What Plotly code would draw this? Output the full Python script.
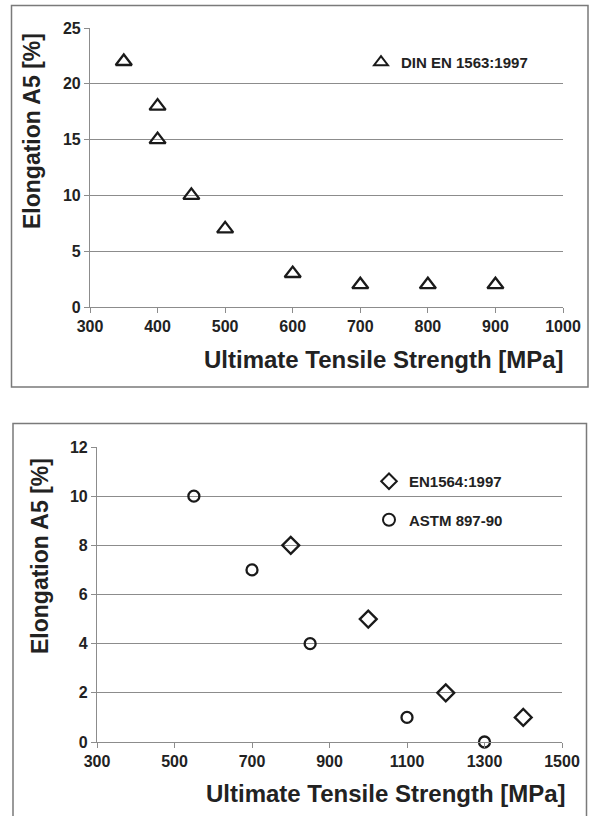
import plotly.graph_objects as go

# DIN EN 1563:1997 grades
din_uts = [350, 400, 400, 450, 500, 600, 700, 800, 900]
din_elong = [22, 18, 15, 10, 7, 3, 2, 2, 2]

# EN1564:1997 grades
en_uts = [800, 1000, 1200, 1400]
en_elong = [8, 5, 2, 1]

# ASTM 897-90 grades
astm_uts = [550, 700, 850, 1100, 1300]
astm_elong = [10, 7, 4, 1, 0]

top_xticks = [300, 400, 500, 600, 700, 800, 900, 1000]
top_yticks = [0, 5, 10, 15, 20, 25]
bot_xticks = [300, 500, 700, 900, 1100, 1300, 1500]
bot_yticks = [0, 2, 4, 6, 8, 10, 12]

x_title = "Ultimate Tensile Strength [MPa]"
y_title = "Elongation A5 [%]"

W, H = 591, 816
FONT = "Liberation Sans, Arial, sans-serif"
GRID = "#8c8c8c"
INK = "#1a1a1a"


def bold(vals):
    return [f"<b>{v}</b>" for v in vals]


fig = go.Figure()

fig.add_trace(go.Scatter(
    x=din_uts, y=din_elong, mode="markers", name="<b>DIN EN 1563:1997</b>",
    marker=dict(symbol="triangle-up-open", size=14, color=INK,
                line=dict(width=2.3, color=INK)),
    xaxis="x", yaxis="y", legend="legend", showlegend=True, cliponaxis=False))

fig.add_trace(go.Scatter(
    x=en_uts, y=en_elong, mode="markers", name="<b>EN1564:1997</b>",
    legendgroup="en",
    marker=dict(symbol="diamond-open", size=13, color=INK,
                line=dict(width=2.3, color=INK)),
    xaxis="x2", yaxis="y2", legend="legend2", showlegend=True, cliponaxis=False))

fig.add_trace(go.Scatter(
    x=astm_uts, y=astm_elong, mode="markers", name="<b>ASTM 897-90</b>",
    legendgroup="astm",
    marker=dict(symbol="circle-open", size=11, color=INK,
                line=dict(width=2.3, color=INK)),
    xaxis="x2", yaxis="y2", legend="legend2", showlegend=True, cliponaxis=False))


def px_x(p):
    return p / W


def px_y(p):
    return 1 - p / H


tickfont = dict(family=FONT, size=16, color="#222", weight="bold")

axis_common = dict(
    showline=True, linecolor=GRID, linewidth=1.2, mirror=False,
    ticks="outside", ticklen=5, tickcolor=GRID, tickwidth=1,
    tickfont=tickfont, zeroline=False, automargin=False,
)

legend_font = dict(family=FONT, size=15, color="#222")

fig.update_layout(
    template="none",
    width=W, height=H,
    margin=dict(l=0, r=0, t=0, b=0, pad=0),
    paper_bgcolor="white", plot_bgcolor="white",
    font=dict(family=FONT, color="#222"),
    showlegend=True,
    xaxis=dict(domain=[px_x(90), px_x(563)], range=[300, 1000],
               tickvals=top_xticks, ticktext=bold(top_xticks),
               showgrid=False, anchor="y", **axis_common),
    yaxis=dict(domain=[px_y(307), px_y(28)], range=[0, 25],
               tickvals=top_yticks, ticktext=bold(top_yticks),
               showgrid=True, gridcolor=GRID, gridwidth=1, anchor="x",
               **axis_common),
    xaxis2=dict(domain=[px_x(97), px_x(562)], range=[300, 1500],
                tickvals=bot_xticks, ticktext=bold(bot_xticks),
                showgrid=False, anchor="y2", **axis_common),
    yaxis2=dict(domain=[px_y(742), px_y(447)], range=[0, 12],
                tickvals=bot_yticks, ticktext=bold(bot_yticks),
                showgrid=True, gridcolor=GRID, gridwidth=1, anchor="x2",
                **axis_common),
    legend=dict(x=px_x(361), y=px_y(46), xanchor="left", yanchor="top",
                bgcolor="rgba(0,0,0,0)", itemwidth=30, font=legend_font,
                itemsizing="constant"),
    legend2=dict(x=px_x(369), y=px_y(465), xanchor="left", yanchor="top",
                 bgcolor="rgba(0,0,0,0)", itemwidth=30, tracegroupgap=16,
                 font=legend_font, itemsizing="constant"),
)

# axis titles, placed as in the original figure layout
title_font = dict(family=FONT, size=24, color="#222")
ytitle_font = dict(family=FONT, size=23, color="#222")
for x, y, text, ang, f in [
    (384, 359, x_title, 0, title_font),
    (386, 793, x_title, 0, title_font),
    (32, 131, y_title, -90, ytitle_font),
    (40, 556, y_title, -90, ytitle_font),
]:
    fig.add_annotation(xref="paper", yref="paper", x=px_x(x), y=px_y(y),
                       text=f"<b>{text}</b>", textangle=ang, showarrow=False,
                       xanchor="center", yanchor="middle", font=f)

# panel frames
fig.add_shape(type="rect", xref="paper", yref="paper",
              x0=px_x(11.5), x1=px_x(588), y0=px_y(387), y1=px_y(5.5),
              line=dict(color="#7a7a7a", width=1.5))
fig.add_shape(type="rect", xref="paper", yref="paper",
              x0=px_x(13), x1=px_x(586.5), y0=px_y(830), y1=px_y(423.5),
              line=dict(color="#7a7a7a", width=1.5))

fig.write_html("out.html")
